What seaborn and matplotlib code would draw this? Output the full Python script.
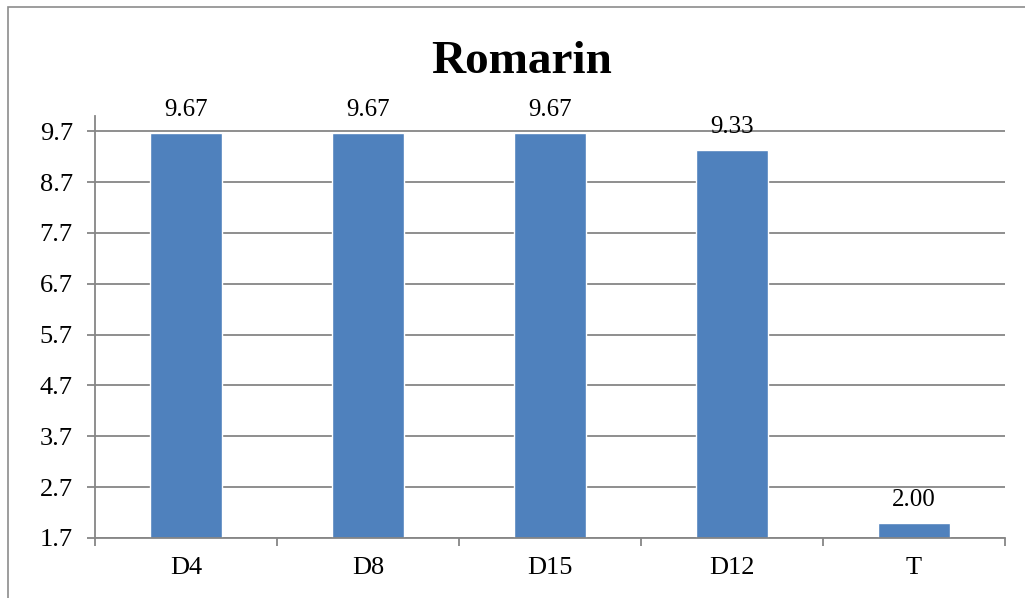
import matplotlib
matplotlib.use("Agg")
import matplotlib.pyplot as plt
from matplotlib.patches import Rectangle
from matplotlib.ticker import FixedLocator, MultipleLocator
import numpy as np
import pandas as pd
import seaborn as sns

# ------------------------------------------------------------
# données
# ------------------------------------------------------------
categories = ["D4", "D8", "D15", "D12", "T"]
values = [9.67, 9.67, 9.67, 9.33, 2.00]
y_ticks = [1.7, 2.7, 3.7, 4.7, 5.7, 6.7, 7.7, 8.7, 9.7]
title = "Romarin"

BAR_COLOR = "#4F81BD"
GRID_COLOR = "#868686"

sns.set_theme(style="white")
plt.rcParams['font.family'] = ['Liberation Serif', 'DejaVu Serif']
plt.rcParams['text.color'] = 'black'

df = pd.DataFrame({"cat": categories, "val": values})

fig = plt.figure(figsize=(10.25, 5.98), dpi=100)
# zone de tracé : x 95->1005 px, y 116->538 px
ax = fig.add_axes([95 / 1025, 60 / 598, 910 / 1025, 422 / 598])

sns.barplot(data=df, x="cat", y="val", color=BAR_COLOR, width=0.4,
            saturation=1, ax=ax, zorder=2)

ax.set_ylim(1.7, 10.0)
ax.set_xlim(-0.5, len(categories) - 0.5)
ax.yaxis.set_major_locator(FixedLocator(y_ticks))
ax.set_yticklabels([f"{t:.1f}" for t in y_ticks])
ax.set_xlabel("")
ax.set_ylabel("")

# grille horizontale
ax.set_axisbelow(True)
ax.yaxis.grid(True, color=GRID_COLOR, lw=1.3)
ax.xaxis.grid(False)

# axes
for s in ["top", "right"]:
    ax.spines[s].set_visible(False)
for s in ["left", "bottom"]:
    ax.spines[s].set_color(GRID_COLOR)
    ax.spines[s].set_linewidth(1.3)

ax.tick_params(axis="y", which="major", left=True, length=6, width=1.3,
               color=GRID_COLOR, labelsize=19, pad=10, labelcolor="black")
ax.xaxis.set_minor_locator(MultipleLocator(1, offset=0.5))
ax.tick_params(axis="x", which="major", bottom=False, length=0,
               labelsize=19, pad=14, labelcolor="black")
ax.tick_params(axis="x", which="minor", bottom=True, length=6, width=1.3,
               color=GRID_COLOR)

# étiquettes de valeurs
ax.bar_label(ax.containers[0], fmt="%.2f", padding=8.5, fontsize=18,
             color="black")

fig.text(522 / 1025, 1 - 73 / 598, title, ha="center", va="baseline",
         fontsize=34, fontweight="bold", color="black")

# cadre du graphique (coupé à droite et en bas)
fig.patches.append(Rectangle((8 / 1025, -0.5), 2, 1.5 - 7 / 598,
                             transform=fig.transFigure, fill=False,
                             edgecolor="#8c8c8c", lw=1.2))

fig.savefig("out.png", dpi=100)
